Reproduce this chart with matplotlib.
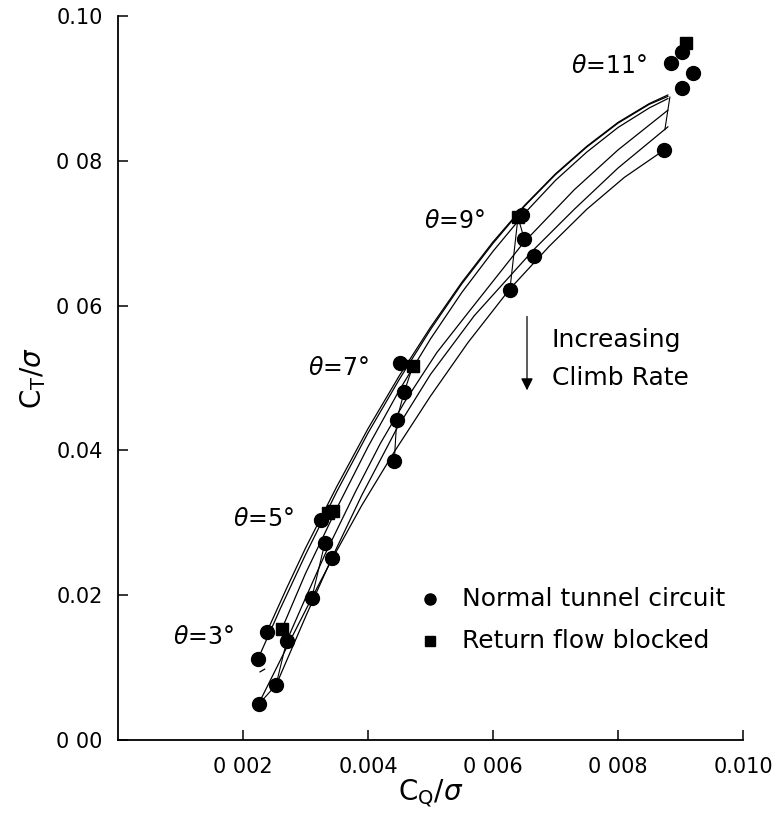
import numpy as np
import matplotlib
matplotlib.use("Agg")
import matplotlib.pyplot as plt

# ---------------- data (C_Q/sigma in units of 1e-3, C_T/sigma in units of 1e-3) ----------------
# measured points, normal tunnel circuit (circles)
normal_cq = [2.256, 2.528, 2.24, 2.38, 2.70,
             3.10, 3.42, 3.31, 3.25,
             4.51, 4.58, 4.46, 4.42,
             6.47, 6.50, 6.66, 6.27,
             9.02, 8.85, 9.20, 9.02, 8.74]
normal_ct = [4.97, 7.6, 11.2, 14.9, 13.7,
             19.6, 25.1, 27.2, 30.4,
             52.1, 48.1, 44.2, 38.5,
             72.5, 69.2, 66.9, 62.2,
             95.0, 93.5, 92.1, 90.1, 81.5]
# measured points, return flow blocked (squares)
blocked_cq = [2.62, 3.36, 3.44, 4.72, 6.40, 9.09]
blocked_ct = [15.3, 31.4, 31.6, 51.7, 72.2, 96.3]

# prediction curves (one per climb rate)
curve1_cq = [2.38, 2.7, 3.0, 3.5, 4.0, 4.5, 5.0, 5.5, 6.0, 6.5, 7.0, 7.5, 8.0, 8.5, 8.8]
curve1_ct = [14.9, 21.0, 26.5, 35.0, 43.0, 50.3, 57.0, 63.2, 68.8, 73.8, 78.2, 82.0, 85.3, 87.9, 89.1]
curve2_cq = [2.24, 2.6, 3.0, 3.5, 4.0, 4.5, 5.0, 5.5, 6.0, 6.5, 7.0, 7.5, 8.0, 8.5, 8.8]
curve2_ct = [11.2, 18.2, 25.6, 34.3, 42.4, 49.8, 56.7, 63.0, 68.6, 73.7, 78.1, 81.9, 85.2, 87.8, 88.9]
curve3_cq = [2.62, 3.0, 3.5, 4.0, 4.5, 5.0, 5.5, 6.0, 6.5, 7.0, 7.5, 8.0, 8.5, 8.8]
curve3_ct = [15.3, 23.0, 32.0, 40.5, 48.3, 55.4, 61.8, 67.5, 72.7, 77.3, 81.2, 84.6, 87.3, 88.6]
curve4_cq = [2.70, 3.0, 3.31, 3.8, 4.2, 4.58, 5.1, 5.6, 6.48, 7.3, 8.0, 8.8]
curve4_ct = [13.7, 19.6, 25.6, 34.3, 41.0, 46.6, 53.5, 59.0, 68.6, 76.0, 81.5, 87.0]
curve5_cq = [2.53, 3.0, 3.42, 3.9, 4.46, 5.0, 5.7, 6.66, 7.3, 8.0, 8.8]
curve5_ct = [7.6, 17.0, 25.1, 33.8, 43.0, 50.5, 58.6, 67.8, 73.3, 79.0, 84.7]
curve6_cq = [2.25, 2.7, 3.1, 3.42, 3.9, 4.42, 5.0, 5.6, 6.27, 6.9, 7.5, 8.1, 8.74]
curve6_ct = [5.0, 12.8, 19.6, 24.9, 32.4, 39.8, 47.5, 54.9, 62.3, 68.2, 73.3, 77.7, 81.5]
stub_cq = [2.27, 2.35]
stub_ct = [9.4, 9.8]

# lines joining points of equal collective pitch
join3_cq = [2.256, 2.528, 2.70]
join3_ct = [4.97, 7.6, 13.7]
join5_cq = [3.31, 3.10]
join5_ct = [27.2, 19.6]
join7_cq = [4.72, 4.58, 4.46, 4.42]
join7_ct = [51.7, 48.1, 44.2, 38.5]
join9a_cq = [6.40, 6.27]
join9a_ct = [72.2, 62.2]
join9b_cq = [6.40, 6.50]
join9b_ct = [72.2, 69.2]
join11_cq = [8.83, 8.75]
join11_ct = [88.8, 84.3]

# pitch labels
pitch_labels = [r"$\theta$=3°", r"$\theta$=5°", r"$\theta$=7°", r"$\theta$=9°", r"$\theta$=11°"]
pitch_cq = [1.36, 2.32, 3.52, 5.39, 7.86]
pitch_ct = [14.2, 30.5, 51.4, 71.7, 93.1]

xticks = [0.002, 0.004, 0.006, 0.008, 0.010]
xticklabels = ["0 002", "0.004", "0 006", "0 008", "0.010"]
yticks = [0.00, 0.02, 0.04, 0.06, 0.08, 0.10]
yticklabels = ["0 00", "0.02", "0.04", "0 06", "0 08", "0.10"]

legend_labels = ["Normal tunnel circuit", "Return flow blocked"]

S = 1e-3
plt.rcParams['font.family'] = ['DejaVu Sans']
plt.rcParams['mathtext.fontset'] = 'dejavusans'

fig = plt.figure(figsize=(7.76, 8.13), dpi=100)
ax = fig.add_axes([118/776, 73/813, 625/776, 724/813])

curves = [(curve1_cq, curve1_ct), (curve2_cq, curve2_ct), (curve3_cq, curve3_ct),
          (curve4_cq, curve4_ct), (curve5_cq, curve5_ct), (curve6_cq, curve6_ct),
          (stub_cq, stub_ct)]
for cx, cy in curves:
    ax.plot(np.array(cx)*S, np.array(cy)*S, color='black', lw=0.9, solid_capstyle='round')

joins = [(join3_cq, join3_ct), (join5_cq, join5_ct), (join7_cq, join7_ct),
         (join9a_cq, join9a_ct), (join9b_cq, join9b_ct), (join11_cq, join11_ct)]
for jx, jy in joins:
    ax.plot(np.array(jx)*S, np.array(jy)*S, color='black', lw=0.8)

ax.plot(np.array(normal_cq)*S, np.array(normal_ct)*S, 'o', color='black', ms=10,
        mec='black', clip_on=False, zorder=5)
ax.plot(np.array(blocked_cq)*S, np.array(blocked_ct)*S, 's', color='black', ms=9,
        mec='black', clip_on=False, zorder=5)

for lab, px, py in zip(pitch_labels, pitch_cq, pitch_ct):
    ax.text(px*S, py*S, lab, fontsize=17, ha='center', va='center')

# arrow + note
ax.annotate('', xy=(0.006544, 0.0483), xytext=(0.006544, 0.0585),
            arrowprops=dict(arrowstyle='-|>', color='black', lw=0.9,
                            mutation_scale=18, shrinkA=0, shrinkB=0))
ax.text(0.00694, 0.05525, "Increasing", fontsize=18, ha='left', va='center')
ax.text(0.00694, 0.0500, "Climb Rate", fontsize=18, ha='left', va='center')

# legend drawn in data space
ax.plot([0.00499], [0.01948], 'o', color='black', ms=8)
ax.plot([0.00499], [0.01367], 's', color='black', ms=7)
ax.text(0.00551, 0.01948, legend_labels[0], fontsize=18, ha='left', va='center')
ax.text(0.00551, 0.01367, legend_labels[1], fontsize=18, ha='left', va='center')

ax.set_xlim(0, 0.010)
ax.set_ylim(0, 0.10)
ax.set_xticks(xticks)
ax.set_xticklabels(xticklabels, fontsize=15)
ax.set_yticks(yticks)
ax.set_yticklabels(yticklabels, fontsize=15)
ax.tick_params(direction='in', length=7, width=1.1, pad=11)
ax.tick_params(axis='x', pad=12)
for sp in ['top', 'right']:
    ax.spines[sp].set_visible(False)
for sp in ['left', 'bottom']:
    ax.spines[sp].set_linewidth(1.3)

ax.set_xlabel(r"C$_\mathregular{Q}$/$\sigma$", fontsize=20, labelpad=0)
ax.set_ylabel(r"C$_\mathregular{T}$/$\sigma$", fontsize=20, labelpad=6)

fig.savefig("out.png", dpi=100)
